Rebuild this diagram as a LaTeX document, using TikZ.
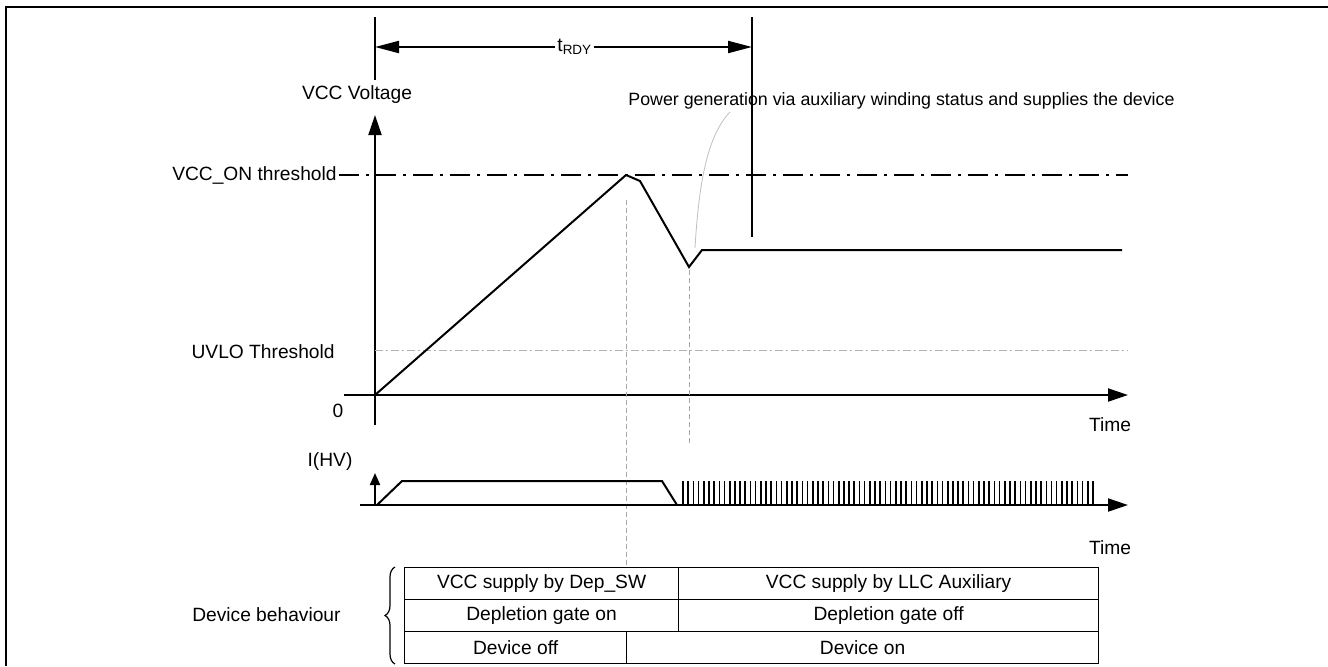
\documentclass[tikz,border=0pt]{standalone}
\usepackage{fontspec}
\setmainfont{Liberation Sans}
\usetikzlibrary{arrows.meta,decorations.pathreplacing}
\tikzset{
    sig/.style={line width=1pt},
    bigarrow/.style={-{Triangle[length=10pt,width=6.5pt]}},
    dimarrow/.style={{Triangle[length=12pt,width=6pt]}-{Triangle[length=12pt,width=6pt]}},
    guide/.style={gray!70, line width=0.4pt, dash pattern=on 2.5pt off 1.5pt},
    dashdot/.style={dash pattern=on 10pt off 3.5pt on 1.5pt off 3.5pt},
    cell/.style={draw, line width=0.6pt, minimum height=16pt, inner sep=0pt, anchor=north west},
    lbl/.style={inner sep=1pt},
}
\begin{document}
\begin{tikzpicture}[x=0.5pt,y=-0.5pt,font=\fontsize{9.6}{11}\selectfont]
        \useasboundingbox (0,0) rectangle (1328,666);
        % Frame
        \draw[line width=1pt] (6,666) -- (6,7) -- (1328,7);

        % t_RDY markers
        \draw[sig] (375,17) -- (375,80);
        \draw[sig] (752,17) -- (752,237);
        \coordinate (rdyL) at (375,47);
        \coordinate (rdyR) at (752,47);
        \draw[sig, dimarrow] (rdyL) -- (rdyR) node[pos=0.53, fill=white, inner sep=1pt] (rdy) {t\textsubscript{RDY}};

        % VCC voltage axes
        \coordinate (vbot) at (375,425);
        \coordinate (vtop) at (375,115);
        \coordinate (tleft) at (344,395);
        \coordinate (tright) at (1128,395);
        \draw[sig, bigarrow] (vbot) -- (vtop);
        \draw[sig, bigarrow] (tleft) -- (tright);
        \node[lbl] (vccv) at (357,95) {VCC Voltage};
        \node[lbl, anchor=east] (vccon) at (339,175) {VCC\_ON threshold};
        \node[lbl, anchor=east] (uvlo) at (337,352) {UVLO Threshold};
        \node[lbl] (zero) at (338,411) {0};
        \node[lbl] (time1) at (1110,425) {Time};

        % Thresholds
        \draw[sig, dashdot] (vccon.east) -- (1128,175);
        \draw[gray!60, line width=0.4pt, dash pattern=on 4pt off 1.5pt on 1pt off 1.5pt] (375,350) -- (1128,350);

        % VCC curve
        \draw[sig, line join=miter] (375,395) -- (626,175) -- (640,181) -- (689,267) -- (702,250) -- (1122,250);

        % Guides
        \draw[guide] (626,200) -- (626,567);
        \draw[guide] (689,270) -- (689,445);

        % Callout
        \node[lbl, anchor=west, font=\fontsize{8.9}{10}\selectfont] (pwr) at (626,101) {Power generation via auxiliary winding status and supplies the device};
        \draw[gray!50, line width=0.4pt] (695,248) .. controls (699,180) and (708,135) .. (730,112);

        % I(HV) axes
        \coordinate (ileft) at (360,505);
        \coordinate (iright) at (1128,505);
        \draw[sig, bigarrow] (ileft) -- (iright);
        \draw[sig, -{Triangle[length=6pt,width=5pt]}] (375,505) -- (375,473);
        \node[lbl] (ihv) at (330,462) {I(HV)};
        \node[lbl] (time2) at (1110,548) {Time};

        % HV current
        \draw[sig] (377,505) -- (402,481) -- (662,481) -- (677,505);
        \foreach \k in {0,...,79} {
            \draw[line width=0.8pt] (683+\k*5.19,505) -- (683+\k*5.19,481);
        }

        % Behaviour table
        \node[cell, minimum width=137pt] (depsw) at (404,567) {VCC supply by Dep\_SW};
        \node[cell, minimum width=210pt] (llcaux) at (678,567) {VCC supply by LLC Auxiliary};
        \node[cell, minimum width=137pt] (gateon) at (404,599) {Depletion gate on};
        \node[cell, minimum width=210pt] (gateoff) at (678,599) {Depletion gate off};
        \node[cell, minimum width=111pt] (devoff) at (404,631) {Device off};
        \node[cell, minimum width=236pt] (devon) at (626,631) {Device on};

        \draw[line width=0.6pt, decorate, decoration={brace, amplitude=5pt}] (395,664) -- (395,567);
        \node[lbl, anchor=east] (behav) at (343,615) {Device behaviour};
\end{tikzpicture}
\end{document}
